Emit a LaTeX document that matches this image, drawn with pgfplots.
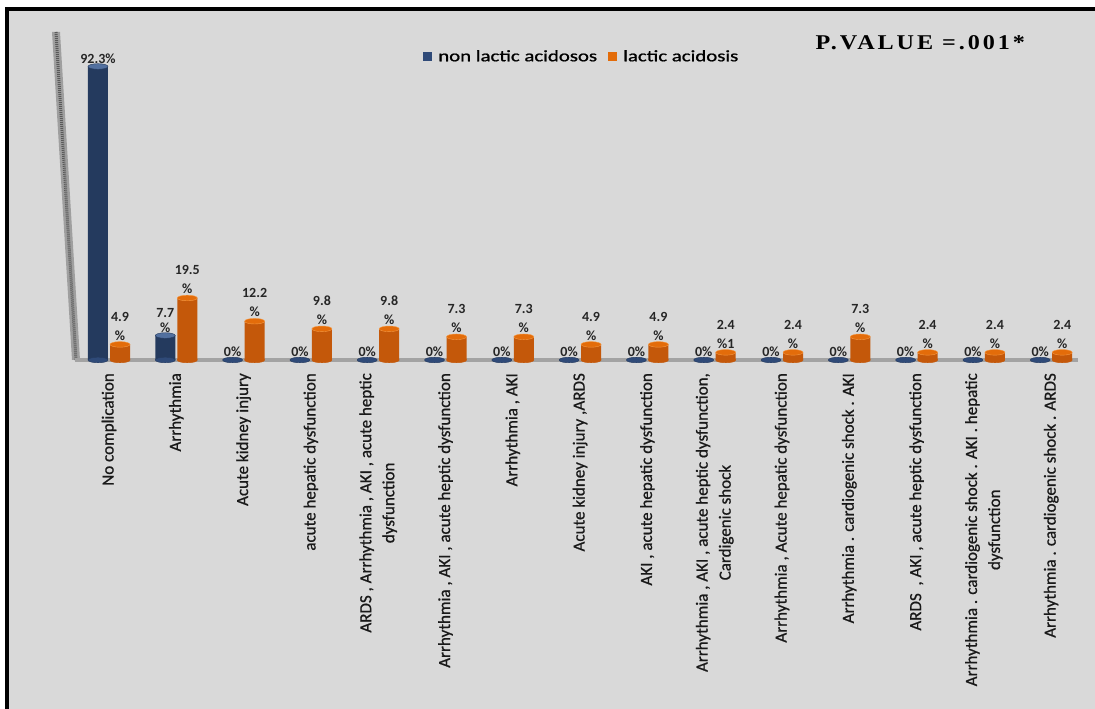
\documentclass[border=0pt]{standalone}
\usepackage{pgfplots}
\usepackage{pgfplotstable}
\pgfplotsset{compat=1.18}
\usepackage{fontspec}
\setmainfont{Carlito}
\newfontfamily\labfont[FakeBold=0.8]{Carlito}
\newfontfamily\legfont[FakeStretch=1.3,FakeBold=1]{Carlito}
\newfontfamily\pvfont[FakeStretch=1.15,LetterSpace=14]{Liberation Serif}
\definecolor{bg}{HTML}{D9D9D9}
\definecolor{blueE}{HTML}{243A5E}
\definecolor{blueM}{HTML}{46618E}
\definecolor{blueC}{HTML}{2F4A78}
\definecolor{blueT}{HTML}{52709F}
\definecolor{orE}{HTML}{C4580A}
\definecolor{orM}{HTML}{F2801F}
\definecolor{orC}{HTML}{E36C0A}
\definecolor{orT}{HTML}{F59A45}
\definecolor{floor}{HTML}{A3A3A3}

\pgfplotstableread{
x y lab
-0.1635 92.3 {92.3\%}
0.8365 7.7 {7.7\\\%}
1.8365 0 {0\%}
2.8365 0 {0\%}
3.8365 0 {0\%}
4.8365 0 {0\%}
5.8365 0 {0\%}
6.8365 0 {0\%}
7.8365 0 {0\%}
8.8365 0 {0\%}
9.8365 0 {0\%}
10.8365 0 {0\%}
11.8365 0 {0\%}
12.8365 0 {0\%}
13.8365 0 {0\%}
}\bluetab

\pgfplotstableread{
x y lab
0.1635 4.9 {4.9\\\%}
1.1635 19.5 {19.5\\\%}
2.1635 12.2 {12.2\\\%}
3.1635 9.8 {9.8\\\%}
4.1635 9.8 {9.8\\\%}
5.1635 7.3 {7.3\\\%}
6.1635 7.3 {7.3\\\%}
7.1635 4.9 {4.9\\\%}
8.1635 4.9 {4.9\\\%}
9.1635 2.4 {2.4\\\%1}
10.1635 2.4 {2.4\\\%}
11.1635 7.3 {7.3\\\%}
12.1635 2.4 {2.4\\\%}
13.1635 2.4 {2.4\\\%}
14.1635 2.4 {2.4\\\%}
}\orangetab

\begin{document}
\begin{tikzpicture}[x=1pt,y=1pt]
\useasboundingbox (0,0) rectangle (1095,709);
\fill[white] (0,0) rectangle (1095,709);
\fill[bg] (9,0) rectangle (1095,698);
\fill[black] (5,0) rectangle (9,702);
\fill[black] (5,698) rectangle (1095,702);
% left 3D wall
\fill[gray!75] (52,677) -- (60,677) -- (80,349) -- (72,349) -- cycle;
\draw[black!65, line width=3pt, dash pattern=on 1pt off 1pt] (56,677) -- (76,349);

\begin{axis}[
  at={(75.35pt,349pt)}, anchor=south west,
  scale only axis, width=1002.8pt, height=349.8pt,
  xmin=-0.5, xmax=14.4, ymin=0, ymax=110,
  axis line style={draw=none}, ytick=\empty,
  xtick={0,...,14}, major tick length=0pt,
  xticklabels={
    No complication,
    Arrhythmia,
    Acute kidney injury,
    acute hepatic dysfunction,
    {ARDS , Arrhythmia , AKI , acute heptic\\dysfunction},
    {Arrhythmia , AKI , acute heptic dysfunction},
    {Arrhythmia , AKI},
    {Acute kidney injury ,ARDS},
    {AKI , acute hepatic dysfunction},
    {Arrhythmia , AKI , acute heptic dysfunction,\\Cardigenic shock},
    {Arrhythmia , Acute hepatic dysfunction},
    {Arrhythmia . cardiogenic shock . AKI},
    {ARDS \ , AKI , acute heptic dysfunction},
    {Arrhythmia . cardiogenic shock . AKI . hepatic\\dysfunction},
    {Arrhythmia . cardiogenic shock . ARDS}
  },
  xticklabel style={rotate=90, anchor=east, align=center, inner sep=0pt,
    font=\labfont\fontsize{17}{23}\selectfont, text=black!90},
  xticklabel shift=13pt,
  clip=false,
  legend style={at={(0.3467,0.892)}, anchor=north west, draw=none, fill=none,
    font=\legfont\fontsize{16}{18}\selectfont, legend columns=2,
    /tikz/every even column/.append style={column sep=9pt}, inner sep=0pt},
]
\addlegendimage{legend image code/.code={\fill[blueC] (0pt,-4pt) rectangle (8pt,4pt);}}
\addlegendimage{legend image code/.code={\fill[orC] (0pt,-4pt) rectangle (8pt,4pt);}}
\legend{\ non lactic acidosos, \ lactic acidosis}

\draw[line width=4pt, floor] (axis cs:-0.5,0) -- (axis cs:14.4,0);

% bottom ellipses
\addplot[only marks, mark=*, mark size=10pt, mark options={yscale=0.28, fill=blueC, draw=blueE}]
  table[x=x, y expr=0] {\bluetab};
\addplot[only marks, mark=*, mark size=10pt, mark options={yscale=0.28, fill=orE, draw=orE}]
  table[x=x, y expr=0] {\orangetab};

% blue bars
\addplot[ybar, bar width=20pt, bar shift=0pt, draw=none,
  left color=blueE, middle color=blueM, right color=blueE,
  point meta=explicit symbolic, nodes near coords,
  nodes near coords style={align=center, font=\bfseries\fontsize{14}{15}\selectfont,
    text=black!85, inner sep=1pt, anchor=south, yshift=2pt}]
  table[x=x, y=y, meta=lab] {\bluetab};

% orange bars
\addplot[ybar, bar width=20pt, bar shift=0pt, draw=none,
  left color=orE, middle color=orM, right color=orE,
  point meta=explicit symbolic, nodes near coords,
  nodes near coords style={align=center, font=\bfseries\fontsize{14}{19}\selectfont,
    text=black!85, inner sep=1pt, anchor=south, yshift=3pt}]
  table[x=x, y=y, meta=lab] {\orangetab};

% top ellipses
\addplot[only marks, mark=*, mark size=10pt, mark options={yscale=0.28, fill=blueT, draw=blueE}]
  coordinates {(-0.1635,92.3) (0.8365,7.7)};
\addplot[only marks, mark=*, mark size=10pt, mark options={yscale=0.28, fill=orC, draw=orT}]
  table[x=x, y=y] {\orangetab};
\end{axis}

\node[anchor=base west, font=\pvfont\bfseries\fontsize{21}{23}\selectfont] at (812,659) {P.VALUE =.001*};
\end{tikzpicture}
\end{document}
